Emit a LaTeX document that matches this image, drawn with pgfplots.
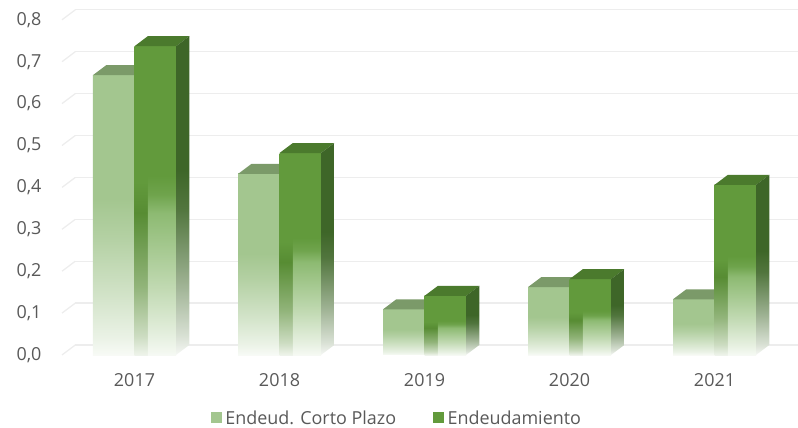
\documentclass[border=0pt]{standalone}
\usepackage{pgfplots}
\pgfplotsset{compat=1.18}
\usepackage{pgfplotstable}
\usepackage{fontspec}
\setmainfont{Open Sans}
\definecolor{lightF}{HTML}{A3C68F}
\definecolor{lightT}{HTML}{7B9A69}
\definecolor{darkF}{HTML}{629A3C}
\definecolor{darkA}{HTML}{578C33}
\definecolor{darkB}{HTML}{8DBA72}
\definecolor{darkT}{HTML}{4B7A2D}
\definecolor{darkS}{HTML}{3E6628}
\definecolor{gridc}{HTML}{EDEDED}
\definecolor{txt}{HTML}{595959}
% vertical shadings: path box covers 25bp (bottom) .. 75bp (top)
\pgfdeclareverticalshading{lightfade}{100bp}{%
  color(0bp)=(lightF!8!white); color(25bp)=(lightF!8!white);
  color(28bp)=(lightF!22!white); color(36bp)=(lightF!50!white);
  color(46bp)=(lightF!82!white); color(53bp)=(lightF); color(100bp)=(lightF)}
\pgfdeclareverticalshading{darkAfade}{100bp}{%
  color(0bp)=(darkA!10!white); color(25bp)=(darkA!10!white);
  color(28bp)=(darkA!30!white); color(36bp)=(darkA!65!white);
  color(48bp)=(darkA); color(53bp)=(darkF); color(100bp)=(darkF)}
\pgfdeclareverticalshading{darkBfade}{100bp}{%
  color(0bp)=(darkB!8!white); color(25bp)=(darkB!8!white);
  color(28bp)=(darkB!22!white); color(36bp)=(darkB!55!white);
  color(48bp)=(darkB); color(51bp)=(darkF!70!darkB); color(54bp)=(darkF); color(100bp)=(darkF)}
\pgfdeclareverticalshading{darkSfade}{100bp}{%
  color(0bp)=(darkS!5!white); color(25bp)=(darkS!5!white);
  color(28bp)=(darkS!20!white); color(36bp)=(darkS!50!white);
  color(48bp)=(darkS!90!white); color(54bp)=(darkS); color(100bp)=(darkS)}
\pgfplotstableread{
x a b
0 0.668 0.737
1 0.432 0.482
2 0.109 0.141
3 0.162 0.181
4 0.133 0.406
}\data
\begin{document}
\begin{tikzpicture}
\useasboundingbox (-62bp,-73bp) rectangle (736bp,355bp);
\begin{axis}[
  scale only axis, width=725bp, height=335.2bp,
  xmin=-0.5, xmax=4.5, ymin=0, ymax=0.8,
  clip=false,
  axis line style={draw=none}, tick style={draw=none},
  xtick={0,1,2,3,4}, xticklabels={2017,2018,2019,2020,2021},
  ytick={0,0.1,0.2,0.3,0.4,0.5,0.6,0.7,0.8},
  /pgf/number format/.cd, use comma, fixed, fixed zerofill, precision=1, assume math mode=true,
  /pgfplots/.cd,
  tick label style={text=txt, font=\fontsize{18}{21}\selectfont},
  yticklabel style={xshift=-17bp},
  xticklabel style={yshift=-15bp},
  ymajorgrids, major grid style={draw=gridc, line width=1.3bp, xshift=13.3bp, yshift=10bp},
  legend style={draw=none, fill=none, at={(0.462,-0.188)}, anchor=center, legend columns=2,
    font=\fontsize{18}{21}\selectfont, text=txt,
    /tikz/every even column/.append style={column sep=35bp}},
]
\pgfplotsinvokeforeach{0,0.1,0.2,0.3,0.4,0.5,0.6,0.7,0.8}{
  \draw[gridc, line width=1.3bp] (axis cs:-0.5,#1) -- ++(13.3bp,10bp);
}
% series 1: Endeud. Corto Plazo (front and top faces)
\addplot[scatter, only marks, mark=*, mark size=0pt, forget plot,
  visualization depends on={\thisrow{a} \as \va},
  scatter/@pre marker code/.code={
    \pgfmathsetmacro\h{\va*419}
    \shade[draw=none, shading=lightfade] (-41.5bp,-\h bp) rectangle (0bp,0bp);
    \fill[draw=none, lightT] (-41.5bp,0bp) -- (0bp,0bp) -- (13.3bp,10bp) -- (-28.2bp,10bp) -- cycle;
  },
  scatter/@post marker code/.code={}]
  table[x=x, y=a] {\data};
% series 2: Endeudamiento (front, top and side faces)
\addplot[scatter, only marks, mark=*, mark size=0pt, forget plot,
  visualization depends on={\thisrow{b} \as \vb},
  scatter/@pre marker code/.code={
    \pgfmathsetmacro\h{\vb*419}
    \pgfmathsetmacro\hb{10-\h}
    \shade[draw=none, shading=darkAfade] (0bp,-\h bp) rectangle (13.3bp,0bp);
    \shade[draw=none, shading=darkBfade] (13.3bp,-\h bp) rectangle (41.5bp,0bp);
    \fill[draw=none, darkT] (0bp,0bp) -- (41.5bp,0bp) -- (54.8bp,10bp) -- (13.3bp,10bp) -- cycle;
    \shade[draw=none, shading=darkSfade]
      (41.5bp,0bp) -- (54.8bp,10bp) -- (54.8bp,\hb bp) -- (41.5bp,-\h bp) -- cycle;
  },
  scatter/@post marker code/.code={}]
  table[x=x, y=b] {\data};
\addlegendimage{legend image code/.code={\fill[lightF] (0bp,-4.5bp) rectangle (10bp,5.5bp); \path (12bp,0bp);}}
\addlegendentry{Endeud. Corto Plazo}
\addlegendimage{legend image code/.code={\fill[darkF] (0bp,-4.5bp) rectangle (10bp,5.5bp); \path (12bp,0bp);}}
\addlegendentry{Endeudamiento}
\end{axis}
\end{tikzpicture}
\end{document}
